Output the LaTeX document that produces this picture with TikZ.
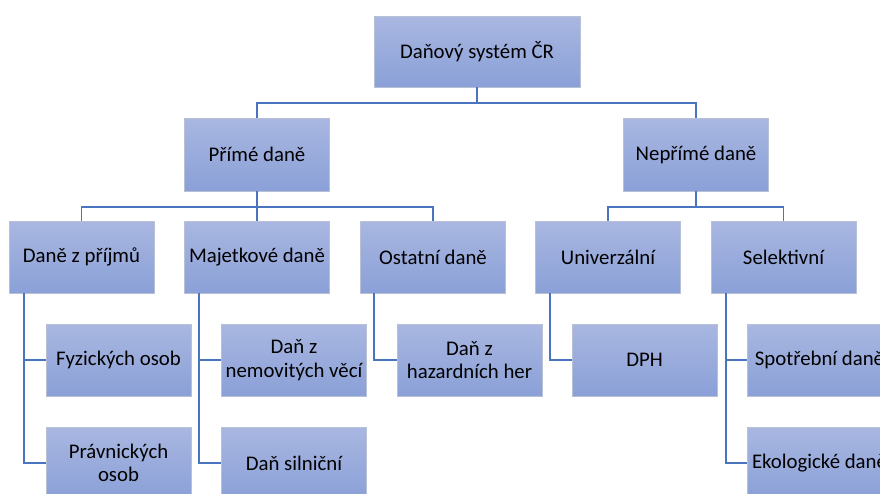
\documentclass[tikz,border=0pt]{standalone}
\usepackage{fontspec}
\setmainfont{Carlito}
\definecolor{boxtop}{HTML}{A9B7E1}
\definecolor{boxbot}{HTML}{8AA0D7}
\definecolor{boxedge}{HTML}{B8C0D6}
\definecolor{conn}{HTML}{4A74BE}
\tikzset{
  tbox/.style={rectangle, draw=boxedge, line width=0.6pt, top color=boxtop, bottom color=boxbot,
    minimum width=145pt, minimum height=72pt, inner sep=2pt, align=center,
    font=\fontsize{20.8}{23.5}\selectfont, text=black},
  link/.style={draw=conn, line width=1.6pt}
}
\begin{document}
\begin{tikzpicture}[x=1pt,y=-1pt]
\useasboundingbox (0,0) rectangle (880,493);
\clip (0,0) rectangle (880,493);
% level 0
\node[tbox, minimum width=206pt, minimum height=71pt] (root) at (477,51.5) {Daňový systém ČR};
% level 1
\node[tbox, minimum height=73pt] (P) at (257,154.5) {Přímé daně};
\node[tbox, minimum height=73pt] (N) at (696,154.5) {Nepřímé daně};
% level 2
\node[tbox] (DP) at (81.5,257) {Daně z příjmů};
\node[tbox] (MD) at (257,257) {Majetkové daně};
\node[tbox] (OD) at (433,257) {Ostatní daně};
\node[tbox] (UN) at (608,257) {Univerzální};
\node[tbox] (SE) at (783.5,257) {Selektivní};
% level 3
\node[tbox] (FO) at (118.5,360) {Fyzických osob};
\node[tbox] (DN) at (294,360) {Daň z\\nemovitých věcí};
\node[tbox] (DH) at (469.5,360) {Daň z\\hazardních her};
\node[tbox] (DPH) at (644.5,360) {DPH};
\node[tbox] (SP) at (819.5,360) {Spotřební daně};
% level 4
\node[tbox] (PO) at (118.5,463) {Právnických\\osob};
\node[tbox] (DS) at (294,463) {Daň silniční};
\node[tbox] (EK) at (819.5,463) {Ekologické daně};
% connectors
\coordinate (bus0) at (0,103);
\coordinate (bus1) at (0,207);
\path[link] (root.south) -- (root.south |- bus0) -| (P.north);
\path[link] (root.south |- bus0) -| (N.north);
\path[link] (P.south) -- (MD.north);
\path[link] (P.south |- bus1) -| (DP.north);
\path[link] (P.south |- bus1) -| (OD.north);
\path[link] (N.south) -- (N.south |- bus1) -| (UN.north);
\path[link] (N.south |- bus1) -| (SE.north);
\path[link] ([xshift=15pt]DP.south west) |- (FO.west);
\path[link] ([xshift=15pt]DP.south west) |- (PO.west);
\path[link] ([xshift=15pt]MD.south west) |- (DN.west);
\path[link] ([xshift=15pt]MD.south west) |- (DS.west);
\path[link] ([xshift=14pt]OD.south west) |- (DH.west);
\path[link] ([xshift=15pt]UN.south west) |- (DPH.west);
\path[link] ([xshift=15pt]SE.south west) |- (SP.west);
\path[link] ([xshift=15pt]SE.south west) |- (EK.west);
\end{tikzpicture}
\end{document}
